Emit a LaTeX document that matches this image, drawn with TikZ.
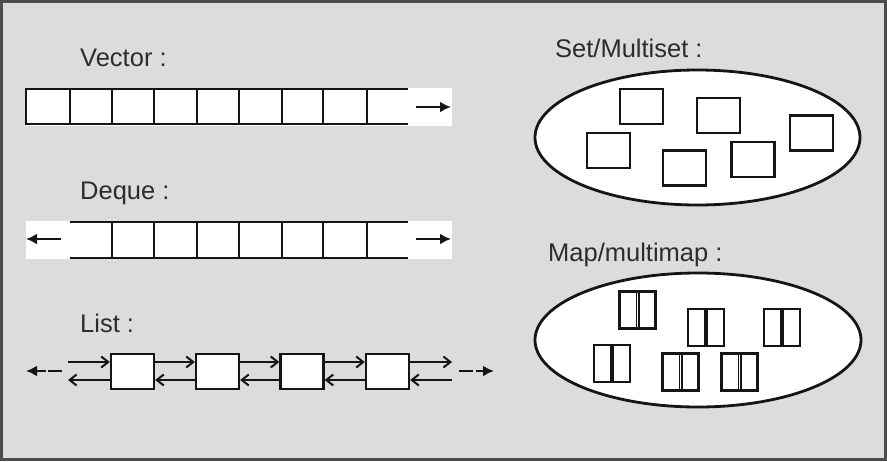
\documentclass[tikz,border=0pt]{standalone}
\usepackage{fontspec}
\setmainfont{Liberation Sans}
\usetikzlibrary{arrows.meta,shapes.geometric}
\definecolor{bg}{HTML}{DCDCDC}
\definecolor{ink}{HTML}{151515}
\definecolor{txt}{HTML}{2C2C2C}
\begin{document}
\begin{tikzpicture}[x=1pt,y=-1pt,
  ln/.style={line width=2.3pt, draw=ink, line cap=rect},
  cell/.style={rectangle, draw=ink, line width=2.3pt, fill=white, minimum width=43pt, minimum height=35pt, inner sep=0pt},
  pairbox/.style={cell, minimum width=36pt, minimum height=37pt,
    path picture={\draw[line width=1.8pt, draw=ink] ([xshift=-1.1pt]path picture bounding box.north) -- ([xshift=-1.1pt]path picture bounding box.south);
                  \draw[line width=1.8pt, draw=ink] ([xshift=1.1pt]path picture bounding box.north) -- ([xshift=1.1pt]path picture bounding box.south);}},
  lbl/.style={anchor=base west, inner sep=0pt, font=\fontsize{25.5}{30}\selectfont, text=txt},
  endarrow/.style={line width=2.6pt, draw=ink, -{Latex[length=11pt,width=11pt]}},
  dashend/.style={endarrow, dash pattern=on 14pt off 2.5pt},
  link/.style={line width=2pt, draw=ink, -{Straight Barb[length=7pt,width=11pt,line width=2pt]}},
  bag/.style={ellipse, draw=ink, line width=2.8pt, fill=white, inner sep=0pt}
]
\useasboundingbox (0,0) rectangle (887,461);
\fill[bg] (0,0) rectangle (887,461);
\draw[line width=3pt, draw=black!70] (1.5,1.5) rectangle (885.5,459.5);

% ---------- Vector ----------
\node[lbl] (vl) at (80,66.5) {Vector :};
\fill[white] (26,88) rectangle (452,126);
\draw[ln] (26,89) -- (407,89) (26,124) -- (407,124);
\foreach \x in {26,70,112,154,197,239,282,323,367} \draw[ln] (\x,89) -- (\x,124);
\coordinate (va) at (416,107); \coordinate (vb) at (451,107);
\draw[endarrow] (va) -- (vb);

% ---------- Deque ----------
\node[lbl] (dl) at (80,199) {Deque :};
\fill[white] (26,221) rectangle (452,259);
\draw[ln] (71,222) -- (407,222) (71,258) -- (407,258);
\foreach \x in {112,154,197,239,282,323,367} \draw[ln] (\x,222) -- (\x,258);
\coordinate (da) at (61,239); \coordinate (db) at (26,239);
\coordinate (dc) at (416,239); \coordinate (dd) at (451,239);
\draw[endarrow] (da) -- (db);
\draw[endarrow] (dc) -- (dd);

% ---------- List ----------
\node[lbl] (ll) at (80,332) {List :};
\node[cell] (l1) at (132.5,371.5) {};
\node[cell] (l2) at (217.5,371.5) {};
\node[cell] (l3) at (302,371.5) {};
\node[cell] (l4) at (387.5,371.5) {};
\coordinate (lu0) at (68,362); \coordinate (ll0) at (68,380);
\coordinate (lu5) at (452,362); \coordinate (ll5) at (452,380);
\draw[link] (lu0) -- ([yshift=9.5pt]l1.west);
\draw[link] ([yshift=-8.5pt]l1.west) -- (ll0);
\draw[link] ([yshift=9.5pt]l1.east) -- ([yshift=9.5pt]l2.west);
\draw[link] ([yshift=-8.5pt]l2.west) -- ([yshift=-8.5pt]l1.east);
\draw[link] ([yshift=9.5pt]l2.east) -- ([yshift=9.5pt]l3.west);
\draw[link] ([yshift=-8.5pt]l3.west) -- ([yshift=-8.5pt]l2.east);
\draw[link] ([yshift=9.5pt]l3.east) -- ([yshift=9.5pt]l4.west);
\draw[link] ([yshift=-8.5pt]l4.west) -- ([yshift=-8.5pt]l3.east);
\draw[link] ([yshift=9.5pt]l4.east) -- (lu5);
\draw[link] (ll5) -- ([yshift=-8.5pt]l4.east);
\coordinate (la) at (62,371); \coordinate (lb) at (26,371);
\coordinate (lc) at (459,371); \coordinate (ld) at (494,371);
\draw[dashend] (la) -- (lb);
\draw[dashend] (lc) -- (ld);

% ---------- Set/Multiset ----------
\node[lbl] (sl) at (555,57) {Set/Multiset :};
\node[bag, minimum width=325pt, minimum height=135pt] (setE) at (697.5,137.5) {};
\node[cell] (s1) at (641.5,106.5) {};
\node[cell] (s2) at (718.5,115.5) {};
\node[cell] (s3) at (811.5,133) {};
\node[cell] (s4) at (608.5,150.5) {};
\node[cell] (s5) at (684.5,168) {};
\node[cell] (s6) at (753,159.5) {};

% ---------- Map/multimap ----------
\node[lbl] (ml) at (548,261) {Map/multimap :};
\node[bag, minimum width=326pt, minimum height=134pt] (mapE) at (698,340) {};
\node[pairbox] (m1) at (637.5,310) {};
\node[pairbox] (m2) at (706,327.5) {};
\node[pairbox] (m3) at (782,327.5) {};
\node[pairbox] (m4) at (612,363.5) {};
\node[pairbox] (m5) at (680.5,372) {};
\node[pairbox] (m6) at (739.5,372) {};
\end{tikzpicture}
\end{document}
